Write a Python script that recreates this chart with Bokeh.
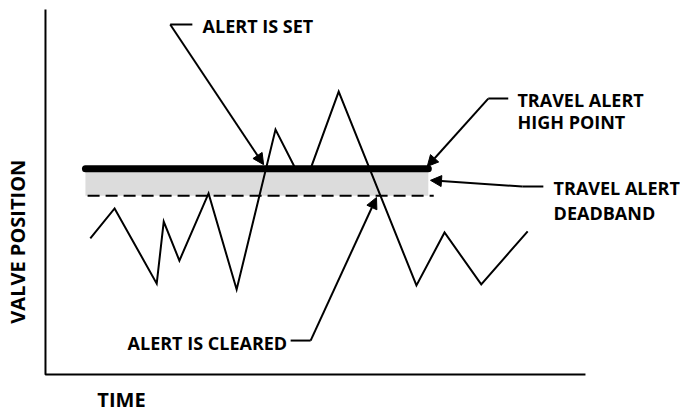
from bokeh.plotting import figure
from bokeh.models import Range1d, Arrow, NormalHead
from bokeh.core.properties import value
from bokeh.embed import file_html
from bokeh.resources import INLINE

# ---- data (time 0..100, valve position 0..100) ----
time_pts = [8.3, 12.8, 20.6, 21.9, 24.8, 30.2, 35.4, 42.6, 46.3, 49.1, 54.3, 68.7, 73.9, 80.7, 89.3]
pos_pts = [37.3, 45.5, 24.9, 41.9, 31.2, 49.6, 23.3, 67.1, 56.4, 56.4, 77.5, 24.4, 38.9, 24.7, 39.2]

axis_x = [0, 0, 100]
axis_y = [100, 0, 0]

band_start, band_end = 7.4, 70.9
dash_start, dash_end = 7.8, 71.9
high_point = 56.4
deadband_low = 49.0

# leader polylines (corner, elbow) and arrow tips
set_leader_x = [27.2, 23.1]
set_leader_y = [95.9, 95.9]
set_tip = (40.4, 57.5)

high_leader_x = [85.7, 82.0]
high_leader_y = [75.6, 75.6]
high_tip = (70.7, 57.0)

dead_leader_x = [92.2, 88.3]
dead_leader_y = [51.5, 51.5]
dead_tip = (71.3, 53.2)

clr_leader_x = [45.4, 49.1]
clr_leader_y = [9.3, 9.3]
clr_tip = (61.3, 48.5)

# annotation texts and anchors
note_texts = ["ALERT IS SET", "TRAVEL ALERT", "HIGH POINT", "TRAVEL ALERT", "DEADBAND", "ALERT IS CLEARED"]
note_x = [29.1, 87.4, 87.4, 94.1, 94.1, 15.2]
note_y = [95.4, 75.2, 69.1, 51.0, 44.2, 8.6]

x_title, x_title_pos = "TIME", (9.6, -6.9)
y_title, y_title_pos = "VALVE POSITION", (-5.2, 36.4)

FONT = "Open Sans"

p = figure(width=680, height=414, output_backend="svg", toolbar_location=None,
           x_range=Range1d(-8.33, 117.6), y_range=Range1d(-10.96, 102.47),
           x_axis_type=None, y_axis_type=None,
           min_border_left=0, min_border_bottom=0, min_border_top=0, min_border_right=0)
p.grid.visible = False
p.outline_line_color = None
p.background_fill_color = "white"
p.border_fill_color = "white"

# axes
p.line(axis_x, axis_y, line_color="black", line_width=2)

# deadband
p.quad(left=[band_start], right=[band_end], bottom=[deadband_low], top=[high_point],
       fill_color="#dcdcdc", line_color=None)
p.line([dash_start, dash_end], [deadband_low, deadband_low], line_color="black",
       line_width=2, line_dash="12 6")
# signal
p.line(time_pts, pos_pts, line_color="black", line_width=2, line_join="miter")
# high point
p.line([band_start, band_end], [high_point, high_point], line_color="black",
       line_width=7, line_cap="round")

# leaders
for lx, ly, tip in [(set_leader_x, set_leader_y, set_tip), (high_leader_x, high_leader_y, high_tip),
                    (dead_leader_x, dead_leader_y, dead_tip), (clr_leader_x, clr_leader_y, clr_tip)]:
    p.line(lx, ly, line_color="black", line_width=2)
    p.add_layout(Arrow(end=NormalHead(size=11, fill_color="black", line_color="black", line_width=1),
                       x_start=lx[1], y_start=ly[1], x_end=tip[0], y_end=tip[1],
                       line_color="black", line_width=2))

p.text(x=note_x, y=note_y, text=note_texts, text_font=value(FONT), text_font_style="bold",
       text_font_size="18px", text_color="black", text_align="left", text_baseline="alphabetic")
p.text(x=[x_title_pos[0]], y=[x_title_pos[1]], text=[x_title], text_font=value(FONT),
       text_font_style="bold", text_font_size="20px", text_color="black",
       text_align="left", text_baseline="alphabetic")
p.text(x=[y_title_pos[0]], y=[y_title_pos[1]], text=[y_title], text_font=value(FONT),
       text_font_style="bold", text_font_size="20px", text_color="black", angle=1.5708,
       text_align="center", text_baseline="alphabetic")

open("out.html", "w").write(file_html(p, INLINE))
